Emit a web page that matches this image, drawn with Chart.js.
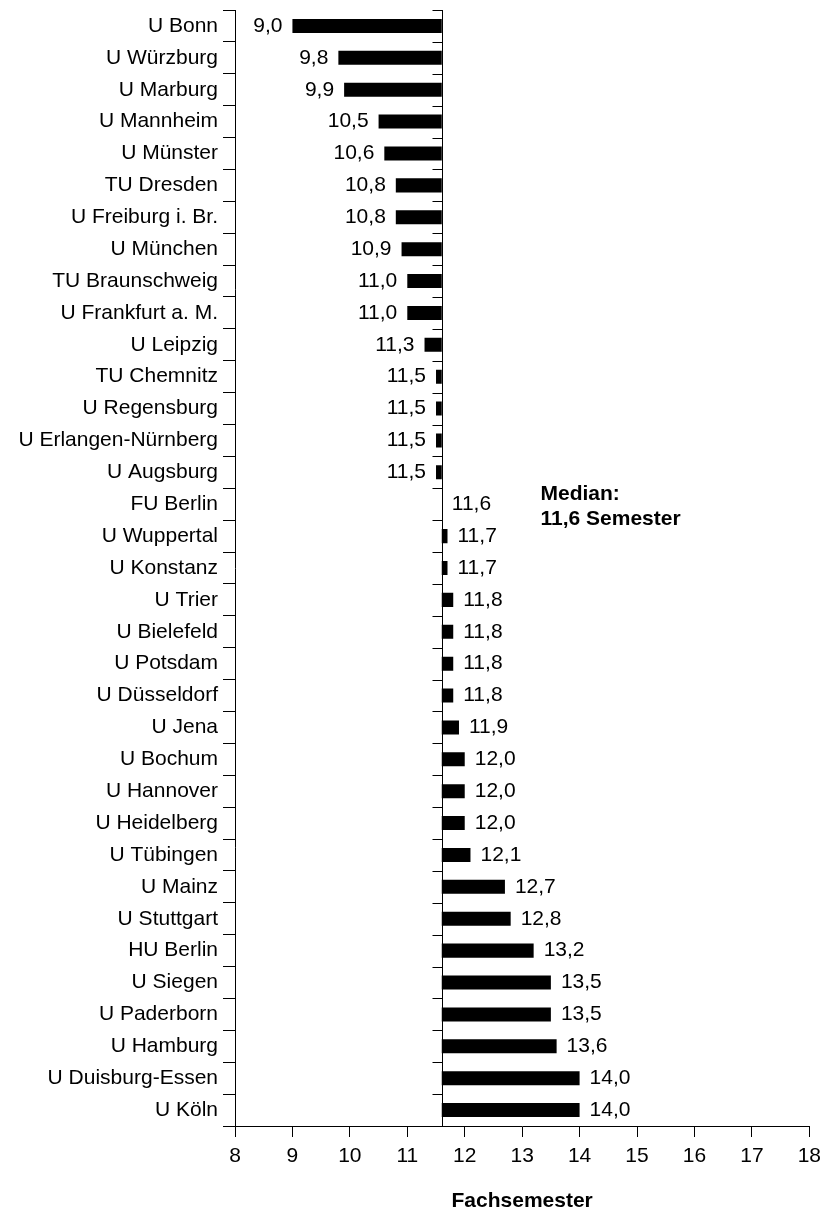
<!DOCTYPE html>
<html>
<head>
<meta charset="utf-8">
<script src="https://cdn.jsdelivr.net/npm/chart.js@4.4.1/dist/chart.umd.min.js"></script>
<style>
  html, body { margin: 0; padding: 0; background: #fff; }
  #wrap { width: 828px; height: 1214px; }
</style>
</head>
<body>
<div id="wrap"><canvas id="grafico"></canvas></div>
<script>
// === Dados ===
var unis = ["U Bonn","U Würzburg","U Marburg","U Mannheim","U Münster","TU Dresden",
  "U Freiburg i. Br.","U München","TU Braunschweig","U Frankfurt a. M.","U Leipzig",
  "TU Chemnitz","U Regensburg","U Erlangen-Nürnberg","U Augsburg","FU Berlin",
  "U Wuppertal","U Konstanz","U Trier","U Bielefeld","U Potsdam","U Düsseldorf",
  "U Jena","U Bochum","U Hannover","U Heidelberg","U Tübingen","U Mainz",
  "U Stuttgart","HU Berlin","U Siegen","U Paderborn","U Hamburg","U Duisburg-Essen","U Köln"];
var semestres = [9.0,9.8,9.9,10.5,10.6,10.8,10.8,10.9,11.0,11.0,11.3,11.5,11.5,11.5,11.5,11.6,
  11.7,11.7,11.8,11.8,11.8,11.8,11.9,12.0,12.0,12.0,12.1,12.7,12.8,13.2,13.5,13.5,13.6,14.0,14.0];
var mediana = 11.6;
var eixoMin = 8;
var eixoMax = 18;
var tituloEixo = "Fachsemester";

var fonte = '"Liberation Sans", Arial, sans-serif';
function fmt(v) { return v.toFixed(1).replace('.', ','); }

// barras flutuantes a partir da mediana
var barras = semestres.map(function(v) { return [mediana, v]; });

// rótulos de valor
var rotulosPlugin = {
  id: 'rotulos',
  afterDatasetsDraw: function(chart) {
    var ctx = chart.ctx;
    var sx = chart.scales.x;
    var meta = chart.getDatasetMeta(0);
    ctx.save();
    ctx.font = '21px ' + fonte;
    ctx.fillStyle = '#000';
    ctx.textBaseline = 'middle';
    meta.data.forEach(function(bar, i) {
      var v = semestres[i];
      var px = sx.getPixelForValue(v);
      if (v < mediana) {
        ctx.textAlign = 'right';
        ctx.fillText(fmt(v), px - 10, bar.y);
      } else {
        ctx.textAlign = 'left';
        ctx.fillText(fmt(v), px + 10, bar.y);
      }
    });
    ctx.restore();
  }
};

// linha da mediana + texto
var medianaPlugin = {
  id: 'mediana',
  afterDatasetsDraw: function(chart) {
    var ctx = chart.ctx;
    var sx = chart.scales.x, sy = chart.scales.y;
    var mx = Math.round(sx.getPixelForValue(mediana)) + 0.5;
    ctx.save();
    ctx.strokeStyle = '#000';
    ctx.lineWidth = 1;
    ctx.beginPath();
    ctx.moveTo(mx, chart.chartArea.top);
    ctx.lineTo(mx, chart.chartArea.bottom);
    for (var i = 0; i <= unis.length; i++) {
      var yy = Math.round(sy.getPixelForValue(i - 0.5)) + 0.5;
      ctx.moveTo(mx - 10, yy);
      ctx.lineTo(mx, yy);
    }
    ctx.stroke();

    var iMed = semestres.indexOf(mediana);
    var yMed = sy.getPixelForValue(iMed);
    ctx.font = 'bold 21px ' + fonte;
    ctx.fillStyle = '#000';
    ctx.textAlign = 'left';
    ctx.textBaseline = 'middle';
    ctx.fillText('Median:', mx + 98, yMed - 10);
    ctx.fillText(fmt(mediana) + ' Semester', mx + 98, yMed + 15);
    ctx.restore();
  }
};

var ctxG = document.getElementById('grafico');
new Chart(ctxG, {
  type: 'bar',
  data: {
    labels: unis,
    datasets: [{
      data: barras,
      backgroundColor: '#000',
      borderWidth: 0,
      barPercentage: 0.44,
      categoryPercentage: 1
    }]
  },
  options: {
    indexAxis: 'y',
    responsive: true,
    maintainAspectRatio: false,
    animation: false,
    layout: { padding: { top: 10, right: 14, left: 0, bottom: 0 } },
    plugins: { legend: { display: false }, tooltip: { enabled: false } },
    scales: {
      x: {
        type: 'linear',
        min: eixoMin,
        max: eixoMax,
        afterFit: function(s) { s.height = 88; },
        ticks: {
          stepSize: 1,
          color: '#000',
          padding: 7,
          font: { family: fonte, size: 21 }
        },
        grid: {
          drawOnChartArea: false,
          drawTicks: true,
          tickLength: 11,
          color: '#000'
        },
        border: { display: true, color: '#000' },
        title: {
          display: true,
          text: tituloEixo,
          color: '#000',
          padding: { top: 0, bottom: 0 },
          font: { family: fonte, size: 21, weight: 'bold' }
        }
      },
      y: {
        afterFit: function(s) { s.width = 235; s.paddingTop = 0; s.paddingBottom = 0; },
        ticks: {
          autoSkip: false,
          color: '#000',
          padding: 5,
          font: { family: fonte, size: 21 }
        },
        grid: {
          offset: true,
          drawOnChartArea: false,
          drawTicks: true,
          tickLength: 12,
          color: '#000'
        },
        border: { display: true, color: '#000' }
      }
    }
  },
  plugins: [rotulosPlugin, medianaPlugin]
});
</script>
</body>
</html>
